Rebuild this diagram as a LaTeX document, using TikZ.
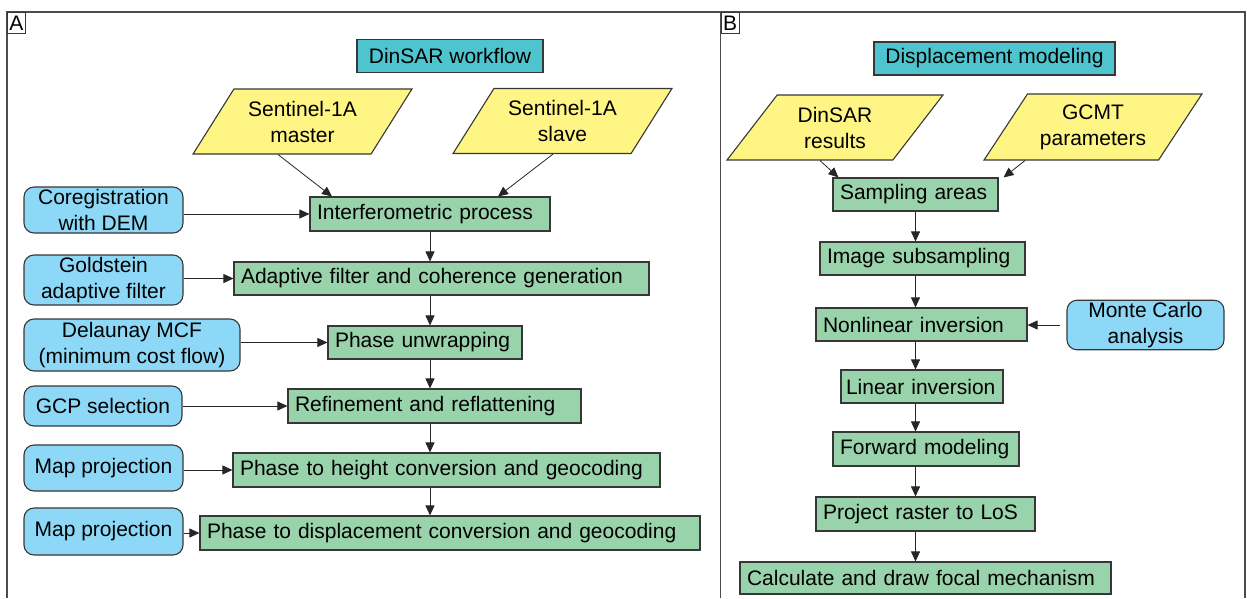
\documentclass[tikz,border=0pt]{standalone}
\usepackage{fontspec}
\setmainfont{Liberation Sans}
\usepackage{tikz}
\usetikzlibrary{arrows.meta,shapes.geometric}
\definecolor{grn}{RGB}{153,211,171}
\definecolor{blu}{RGB}{141,216,247}
\definecolor{yel}{RGB}{255,245,133}
\definecolor{tea}{RGB}{78,196,206}
\definecolor{edg}{RGB}{55,55,55}
\tikzset{
    PR/.style ={rectangle, draw=edg, fill=grn, line width=1.1pt, minimum height=34pt, inner xsep=7pt, align=left},
    IN/.style ={rectangle, rounded corners=10pt, draw=edg, fill=blu, line width=1.1pt, minimum width=159pt, minimum height=46pt, inner sep=2pt, align=center},
    DA/.style ={trapezium, trapezium left angle=52, trapezium right angle=128, trapezium stretches=true, draw=edg, fill=yel, line width=1.1pt, minimum width=219pt, minimum height=65pt, inner sep=0pt, align=center},
    TI/.style ={rectangle, draw=edg, fill=tea, line width=1.1pt, minimum height=33pt},
    LB/.style ={rectangle, draw=edg, line width=1pt, minimum width=18pt, minimum height=21pt, inner sep=0pt, anchor=north west},
    AR/.style ={-{Triangle[length=10pt,width=9pt]}, line width=0.8pt, draw=black!85},
    FR/.style ={line width=1.3pt, draw=black!70}
}
\begin{document}
\begin{tikzpicture}[x=1pt, y=-1pt, font=\fontsize{21}{26}\selectfont]
    \useasboundingbox (0,0) rectangle (1247,598);
    \draw[FR] (7,598) -- (7,12) -- (1245,12) -- (1245,598);
    \draw[FR] (720.5,12) -- (720.5,598);
    \node[LB] (labA) at (7,12) {A};
    \node[LB] (labB) at (720.5,12) {B};

    \node[TI, minimum width=186pt] (wflow) at (450,56) {DinSAR workflow};
    \node[DA] (master) at (302.5,121.5) {Sentinel-1A\\master};
    \node[DA] (slave) at (562.5,121) {Sentinel-1A\\slave};
    \node[IN] (coreg) at (103.5,210) {Coregistration\\with DEM};
    \node[PR, text width=226pt] (interf) at (430,214) {Interferometric process};
    \node[IN, minimum height=50pt] (gold) at (103.5,280) {Goldstein\\adaptive filter};
    \node[PR, text width=401pt, minimum height=33pt] (adapt) at (441.5,278.5) {Adaptive filter and coherence generation};
    \node[IN, minimum width=216pt, minimum height=52pt] (delaunay) at (132,345) {Delaunay MCF\\(minimum cost flow)};
    \node[PR, text width=180pt, minimum height=33pt] (unwrap) at (425,342.5) {Phase unwrapping};
    \node[IN, minimum width=158pt, minimum height=40pt] (gcp) at (103,406) {GCP selection};
    \node[PR, text width=279pt] (refine) at (434.5,406) {Refinement and reflattening};
    \node[IN] (map1) at (103.5,468) {Map projection};
    \node[PR, text width=413pt] (height) at (446.5,470) {Phase to height conversion and geocoding};
    \node[IN, minimum height=47pt] (map2) at (103.5,531.5) {Map projection};
    \node[PR, text width=486pt] (disp) at (450,533) {Phase to displacement conversion and geocoding};

    \draw[AR] ([xshift=-24.5pt]master.south) -- ([xshift=-98pt]interf.north);
    \draw[AR] ([xshift=-9.5pt]slave.south) -- ([xshift=68pt]interf.north);
    \foreach \a/\b in {coreg/interf, gold/adapt, delaunay/unwrap, gcp/refine, map1/height, map2/disp}
        \draw[AR] (\a.east |- \b) -- (\b.west);
    \foreach \a/\b in {interf/adapt, adapt/unwrap, unwrap/refine, refine/height, height/disp}
        \draw[AR] (interf |- \a.south) -- (interf |- \b.north);

    \node[TI, minimum width=241pt] (dmod) at (994.5,58.5) {Displacement modeling};
    \node[DA, minimum width=216pt] (dres) at (835,127.5) {DinSAR\\results};
    \node[DA, minimum width=218pt, minimum height=66pt] (gcmt) at (1093,127) {GCMT\\parameters};
    \node[PR, text width=151pt, minimum height=33pt] (samp) at (915.5,194.5) {Sampling areas};
    \node[PR, text width=191pt, minimum height=33pt] (subs) at (922.5,258.5) {Image subsampling};
    \node[PR, text width=197pt, minimum height=33pt] (nonlin) at (921.5,324.5) {Nonlinear inversion};
    \node[IN, minimum width=157pt] (monte) at (1145.5,325) {Monte Carlo\\analysis};
    \node[PR, text width=152pt, inner xsep=5pt, minimum height=33pt] (linear) at (922,386.5) {Linear inversion};
    \node[PR, text width=172pt] (fwd) at (926,449) {Forward modeling};
    \node[PR, text width=205pt] (proj) at (925.5,514) {Project raster to LoS};
    \node[PR, text width=357pt, minimum height=32pt] (calc) at (925.5,578) {Calculate and draw focal mechanism};

    \draw[AR] ([xshift=-15pt]dres.south) -- ([xshift=6pt]samp.north west);
    \draw[AR] ([xshift=-68pt]gcmt.south) -- ([xshift=5pt]samp.north east);
    \draw[AR, shorten <=6pt] (monte.west) -- (nonlin.east |- monte);
    \foreach \a/\b in {samp/subs, subs/nonlin, nonlin/linear, linear/fwd, fwd/proj, proj/calc}
        \draw[AR] (samp |- \a.south) -- (samp |- \b.north);
\end{tikzpicture}
\end{document}
